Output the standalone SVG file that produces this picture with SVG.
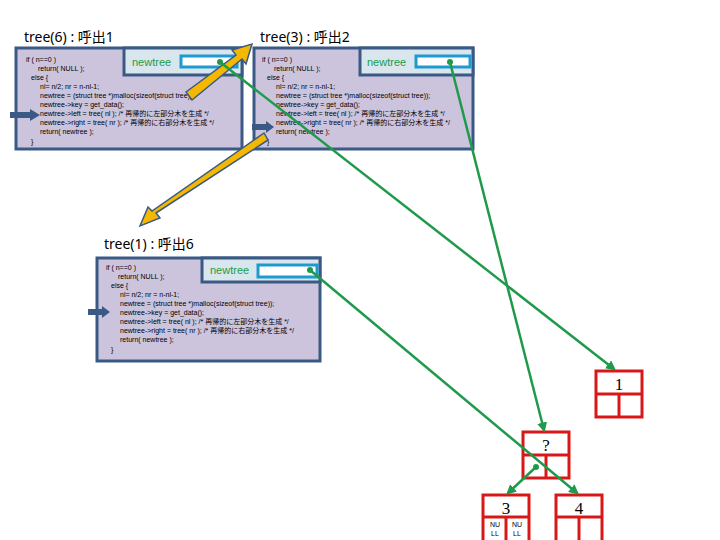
<svg xmlns="http://www.w3.org/2000/svg" width="720" height="540" viewBox="0 0 720 540">
<defs>
<style>
.t{font-family:"Noto Sans","Noto Sans CJK JP",sans-serif;font-size:14px;fill:#000}
.c{font-family:"Liberation Sans","Noto Sans CJK JP",sans-serif;font-size:7px;fill:#000}
.box{fill:#ccc4dc;stroke:#3a5a85;stroke-width:3}
.inb{fill:#dae6ee;stroke:#3a5a85;stroke-width:3}
.fld{fill:#fff;stroke:#1f9ad0;stroke-width:3}
.nt{font-family:"Liberation Sans",sans-serif;font-size:11px;fill:#1a9a4a}
.g{stroke:#1f9a4a;stroke-width:2.5;fill:none;marker-end:url(#ga)}
.r{fill:#fff;stroke:#d81818;stroke-width:3}
.n{font-family:"Liberation Serif",serif;font-size:17px;text-anchor:middle}
.y{fill:#f5b800;stroke:#3a5a85;stroke-width:1.5}
.bl{fill:#3a5a85}
</style>
<marker id="ga" markerWidth="4" markerHeight="4" refX="3" refY="2" orient="auto"><path d="M0,0L4,2L0,4z" fill="#1f9a4a"/></marker>
<g id="code">
<text class="c" x="0" y="0">if ( n==0 )</text>
<text class="c" x="12" y="9">return( NULL );</text>
<text class="c" x="5" y="18">else {</text>
<text class="c" x="14" y="27">nl= n/2;  nr = n-nl-1;</text>
<text class="c" x="14" y="36">newtree = (struct tree *)malloc(sizeof(struct tree));</text>
<text class="c" x="14" y="45">newtree-&gt;key = get_data();</text>
<text class="c" x="14" y="54">newtree-&gt;left = tree( nl );  /* 再帰的に左部分木を生成 */</text>
<text class="c" x="14" y="63">newtree-&gt;right = tree( nr ); /* 再帰的に右部分木を生成 */</text>
<text class="c" x="14" y="72">return( newtree );</text>
<text class="c" x="5" y="82">}</text>
</g>
</defs>
<rect width="720" height="540" fill="#fff"/>
<g id="tree6">
<text class="t" x="24" y="42">tree(6) : 呼出1</text>
<rect class="box" x="16" y="48" width="226" height="101"/>
<use href="#code" x="26" y="62"/>
<rect class="inb" x="124" y="48" width="118" height="27"/>
<text class="nt" x="132" y="66">newtree</text>
<rect class="fld" x="181" y="56" width="56" height="11"/>
<path class="bl" d="M10,112H30V109L40,115L30,121V118H10z"/>
</g>
<g id="tree3">
<text class="t" x="260" y="42">tree(3) : 呼出2</text>
<rect class="box" x="254" y="48" width="219" height="101"/>
<use href="#code" x="262" y="62"/>
<rect class="inb" x="360" y="48" width="113" height="27"/>
<text class="nt" x="367" y="66">newtree</text>
<rect class="fld" x="416" y="56" width="54" height="11"/>
<path class="bl" d="M252,124H266V121L274,127L266,133V130H252z"/>
</g>
<g id="tree1">
<text class="t" x="104" y="249">tree(1) : 呼出6</text>
<rect class="box" x="97" y="258" width="223" height="103"/>
<use href="#code" x="106" y="270"/>
<rect class="inb" x="202" y="258" width="118" height="24"/>
<text class="nt" x="210" y="274">newtree</text>
<rect class="fld" x="258" y="265" width="59" height="12"/>
<path class="bl" d="M88,309H102V306L110,312L102,318V315H88z"/>
</g>
<g id="arrows">
<path class="y" d="M186,92L236,55L232,50L252,44L246,64L242,59L192,100z"/>
<path class="y" d="M268,140L156,213L160,218L140,226L148,207L152,211L264,133z"/>
</g>
<g id="n1"><rect class="r" x="596" y="371" width="46" height="46"/><line x1="596" y1="394" x2="642" y2="394" stroke="#d81818" stroke-width="3"/><line x1="619" y1="394" x2="619" y2="417" stroke="#d81818" stroke-width="3"/><text class="n" x="619" y="390">1</text></g>
<g id="n2"><rect class="r" x="523" y="432" width="46" height="46"/><line x1="523" y1="455" x2="569" y2="455" stroke="#d81818" stroke-width="3"/><line x1="546" y1="455" x2="546" y2="478" stroke="#d81818" stroke-width="3"/><text class="n" x="546" y="451">?</text></g>
<g id="n3"><rect class="r" x="483" y="495" width="46" height="50"/><line x1="483" y1="517" x2="529" y2="517" stroke="#d81818" stroke-width="3"/><line x1="506" y1="517" x2="506" y2="540" stroke="#d81818" stroke-width="3"/><text class="n" x="506" y="514">3</text>
<text class="c" x="490" y="527">NU</text><text class="c" x="491" y="536">LL</text><text class="c" x="512" y="527">NU</text><text class="c" x="513" y="536">LL</text></g>
<g id="n4"><rect class="r" x="556" y="495" width="46" height="50"/><line x1="556" y1="517" x2="602" y2="517" stroke="#d81818" stroke-width="3"/><line x1="579" y1="517" x2="579" y2="540" stroke="#d81818" stroke-width="3"/><text class="n" x="579" y="514">4</text></g>
<g id="connectors">
<circle cx="220" cy="62" r="3" fill="#1f9a4a"/>
<line class="g" x1="220" y1="62" x2="614" y2="369"/>
<circle cx="450" cy="62" r="3" fill="#1f9a4a"/>
<line class="g" x1="450" y1="62" x2="544" y2="430"/>
<circle cx="310" cy="270" r="3" fill="#1f9a4a"/>
<line class="g" x1="310" y1="270" x2="577" y2="493"/>
<circle cx="536" cy="467" r="3" fill="#1f9a4a"/>
<line class="g" x1="536" y1="467" x2="508" y2="493"/>
</g>
</svg>
